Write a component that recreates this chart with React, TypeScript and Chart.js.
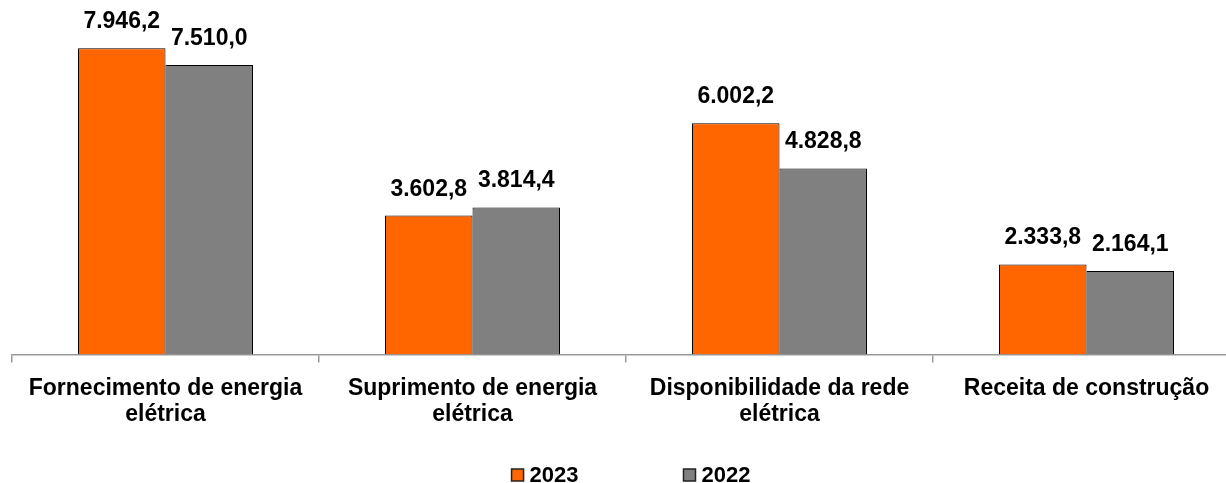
import React, { useEffect, useRef } from 'react';
import { Chart, registerables } from 'chart.js';

Chart.register(...registerables);

const categories: string[][] = [
  ['Fornecimento de energia', 'elétrica'],
  ['Suprimento de energia', 'elétrica'],
  ['Disponibilidade da rede', 'elétrica'],
  ['Receita de construção'],
];
const seriesNames = ['2023', '2022'];
const values2023 = [7946.2, 3602.8, 6002.2, 2333.8];
const values2022 = [7510.0, 3814.4, 4828.8, 2164.1];

const FONT = '"Liberation Sans", Arial, sans-serif';

function fmt(v: number): string {
  const [i, d] = v.toFixed(1).split('.');
  return i.replace(/\B(?=(\d{3})+(?!\d))/g, '.') + ',' + d;
}

const dataLabelPlugin = {
  id: 'dataLabels',
  afterDatasetsDraw(chart: any) {
    const ctx = chart.ctx;
    ctx.save();
    ctx.font = `bold 23px ${FONT}`;
    ctx.fillStyle = '#000';
    ctx.textAlign = 'center';
    ctx.textBaseline = 'alphabetic';
    chart.data.datasets.forEach((ds: any, di: number) => {
      const meta = chart.getDatasetMeta(di);
      meta.data.forEach((el: any, i: number) => {
        ctx.fillText(fmt(ds.data[i]), el.x, el.y - 20);
      });
    });
    ctx.restore();
  },
};

const legendPlugin = {
  id: 'customLegend',
  afterDraw(chart: any) {
    const ctx = chart.ctx;
    const area = chart.chartArea;
    ctx.save();
    ctx.font = `bold 22px ${FONT}`;
    const box = 12;
    const gapText = 6;
    const gapItems = 105;
    const items = chart.data.datasets.map((ds: any) => ({
      label: ds.label,
      color: ds.backgroundColor,
      w: box + gapText + ctx.measureText(ds.label).width,
    }));
    const total = items.reduce((s: number, it: any) => s + it.w, 0) + gapItems * (items.length - 1);
    let x = (area.left + area.right) / 2 + 5 - total / 2;
    const cy = 475;
    items.forEach((it: any) => {
      ctx.fillStyle = it.color;
      ctx.fillRect(x, cy - box / 2, box, box);
      ctx.strokeStyle = '#222';
      ctx.lineWidth = 1.5;
      ctx.strokeRect(x, cy - box / 2, box, box);
      ctx.fillStyle = '#000';
      ctx.textAlign = 'left';
      ctx.textBaseline = 'middle';
      ctx.fillText(it.label, x + box + gapText, cy + 1);
      x += it.w + gapItems;
    });
    ctx.restore();
  },
};

export default function App() {
  const ref = useRef<HTMLCanvasElement | null>(null);

  useEffect(() => {
    document.body.style.margin = '0';
    document.body.style.overflow = 'hidden';
    if (!ref.current) return;
    const chart = new Chart(ref.current, {
      type: 'bar',
      data: {
        labels: categories,
        datasets: [
          {
            label: seriesNames[0],
            data: values2023,
            backgroundColor: '#FF6600',
            borderColor: '#000',
            borderWidth: 1,
            categoryPercentage: 0.57,
            barPercentage: 1,
          },
          {
            label: seriesNames[1],
            data: values2022,
            backgroundColor: '#808080',
            borderColor: '#000',
            borderWidth: 1,
            categoryPercentage: 0.57,
            barPercentage: 1,
          },
        ],
      },
      options: {
        responsive: false,
        animation: false,
        devicePixelRatio: 1,
        layout: { padding: { left: 12, right: 0, top: 0, bottom: 42 } },
        plugins: {
          legend: { display: false },
          tooltip: { enabled: false },
        },
        scales: {
          x: {
            grid: {
              display: true,
              drawOnChartArea: false,
              offset: true,
              tickLength: 8,
              color: '#999',
              lineWidth: 1.5,
            },
            border: { display: true, color: '#999', width: 1.5 },
            ticks: {
              color: '#000',
              padding: 14,
              maxRotation: 0,
              autoSkip: false,
              font: { family: FONT, size: 23, weight: 'bold', lineHeight: 1.1 },
            },
          },
          y: {
            display: false,
            min: 0,
            max: 9200,
          },
        },
      },
      plugins: [dataLabelPlugin, legendPlugin],
    } as any);
    return () => chart.destroy();
  }, []);

  return (
    <div style={{ width: 1226, height: 483, overflow: 'hidden', position: 'relative' }}>
      <canvas ref={ref} width={1240} height={483} style={{ width: 1240, height: 483, display: 'block' }} />
    </div>
  );
}
